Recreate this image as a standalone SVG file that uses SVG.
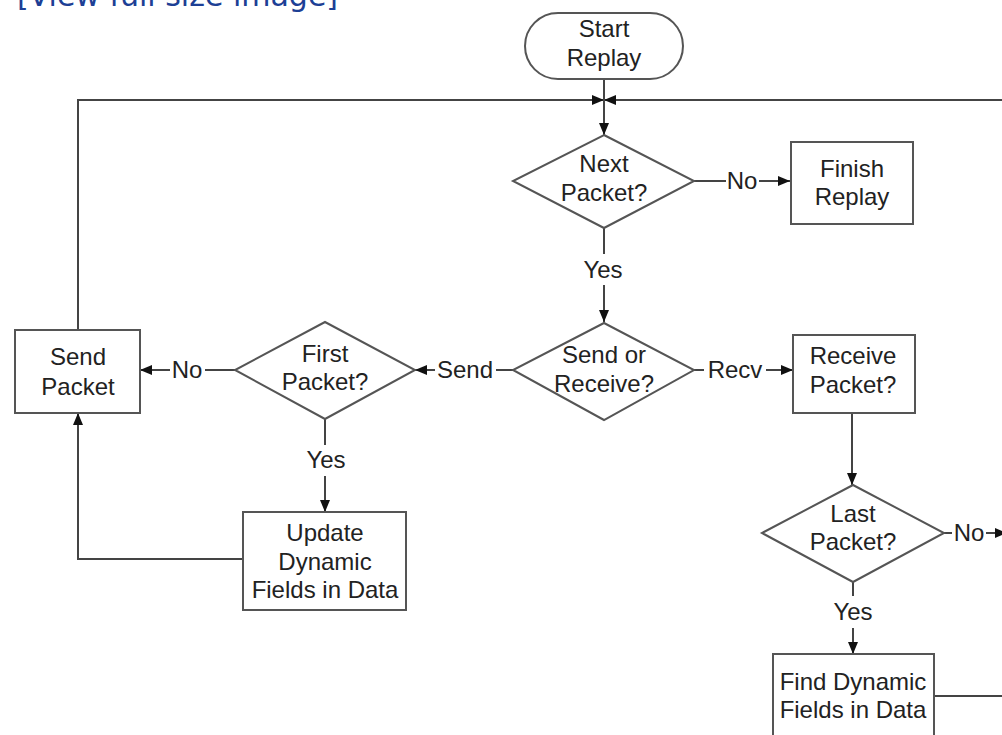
<svg xmlns="http://www.w3.org/2000/svg" width="1002" height="735" viewBox="0 0 1002 735">
  <defs>
    <marker id="arrow" markerUnits="userSpaceOnUse" markerWidth="12" markerHeight="10" refX="12" refY="5" orient="auto">
      <path d="M0,0 L12,5 L0,10 z" fill="#111"/>
    </marker>
    <style>
      .shape { fill: #fff; stroke: #555; stroke-width: 2; }
      .wire { fill: none; stroke: #444; stroke-width: 2; }
      .lbl { font-family: "Liberation Sans", Arial, sans-serif; font-size: 24px; fill: #222; text-anchor: middle; }
      .link { font-family: "DejaVu Sans", Verdana, sans-serif; font-size: 30px; fill: #1d3f95; }
    </style>
  </defs>
  <rect width="1002" height="735" fill="#fff"/>

  <text class="link" x="17" y="6">[View full size image]</text>

  <!-- connectors -->
  <g id="connectors">
    <path class="wire" d="M78,330 V100 H604" marker-end="url(#arrow)"/>
    <path class="wire" d="M1002,100 H604" marker-end="url(#arrow)"/>
    <path class="wire" d="M604,79 V135" marker-end="url(#arrow)"/>
    <!-- Next Packet? No -->
    <path class="wire" d="M694,181 H726"/>
    <path class="wire" d="M759,181 H790" marker-end="url(#arrow)"/>
    <text class="lbl" x="742" y="189">No</text>
    <!-- Next Packet? Yes -->
    <path class="wire" d="M604,228 V254"/>
    <path class="wire" d="M604,285 V322" marker-end="url(#arrow)"/>
    <text class="lbl" x="603" y="278">Yes</text>
    <!-- Send or Receive? Recv -->
    <path class="wire" d="M694,370 H704"/>
    <path class="wire" d="M766,370 H793" marker-end="url(#arrow)"/>
    <text class="lbl" x="735" y="378">Recv</text>
    <!-- Send or Receive? Send -->
    <path class="wire" d="M513,370 H496"/>
    <path class="wire" d="M435,370 H415" marker-end="url(#arrow)"/>
    <text class="lbl" x="465" y="378">Send</text>
    <!-- First Packet? No -->
    <path class="wire" d="M235,370 H205"/>
    <path class="wire" d="M170,370 H140" marker-end="url(#arrow)"/>
    <text class="lbl" x="187" y="378">No</text>
    <!-- First Packet? Yes -->
    <path class="wire" d="M325,419 V445"/>
    <path class="wire" d="M325,476 V512" marker-end="url(#arrow)"/>
    <text class="lbl" x="326" y="468">Yes</text>
    <!-- Update back to Send Packet -->
    <path class="wire" d="M243,559 H78 V413" marker-end="url(#arrow)"/>
    <!-- Receive Packet? to Last Packet? -->
    <path class="wire" d="M852,413 V485" marker-end="url(#arrow)"/>
    <!-- Last Packet? No -->
    <path class="wire" d="M944,533 H952"/>
    <path class="wire" d="M986,533 H1007" marker-end="url(#arrow)"/>
    <text class="lbl" x="969" y="541">No</text>
    <!-- Last Packet? Yes -->
    <path class="wire" d="M853,582 V596"/>
    <path class="wire" d="M853,628 V654" marker-end="url(#arrow)"/>
    <text class="lbl" x="853" y="620">Yes</text>
    <!-- Find Dynamic out -->
    <path class="wire" d="M934,696 H1002"/>
  </g>

  <g id="start">
    <rect class="shape" x="525" y="13" width="158" height="66" rx="33" ry="33"/>
    <text class="lbl" x="604" y="37">Start</text>
    <text class="lbl" x="604" y="66">Replay</text>
  </g>

  <g id="next-packet">
    <polygon class="shape" points="604,135 694,181 604,228 513,181"/>
    <text class="lbl" x="604" y="172">Next</text>
    <text class="lbl" x="604" y="201">Packet?</text>
  </g>

  <g id="finish-replay">
    <rect class="shape" x="791" y="142" width="122" height="82"/>
    <text class="lbl" x="852" y="177">Finish</text>
    <text class="lbl" x="852" y="205">Replay</text>
  </g>

  <g id="send-or-receive">
    <polygon class="shape" points="604,323 694,370 604,420 513,370"/>
    <text class="lbl" x="604" y="363">Send or</text>
    <text class="lbl" x="604" y="392">Receive?</text>
  </g>

  <g id="receive-packet">
    <rect class="shape" x="793" y="335" width="122" height="78"/>
    <text class="lbl" x="853" y="364">Receive</text>
    <text class="lbl" x="853" y="393">Packet?</text>
  </g>

  <g id="first-packet">
    <polygon class="shape" points="325,322 415,370 325,419 235,370"/>
    <text class="lbl" x="325" y="362">First</text>
    <text class="lbl" x="325" y="390">Packet?</text>
  </g>

  <g id="send-packet">
    <rect class="shape" x="15" y="330" width="125" height="83"/>
    <text class="lbl" x="78" y="365">Send</text>
    <text class="lbl" x="78" y="395">Packet</text>
  </g>

  <g id="update-fields">
    <rect class="shape" x="243" y="512" width="163" height="98"/>
    <text class="lbl" x="325" y="541">Update</text>
    <text class="lbl" x="325" y="570">Dynamic</text>
    <text class="lbl" x="325" y="598">Fields in Data</text>
  </g>

  <g id="last-packet">
    <polygon class="shape" points="853,485 944,533 853,582 762,533"/>
    <text class="lbl" x="853" y="522">Last</text>
    <text class="lbl" x="853" y="550">Packet?</text>
  </g>

  <g id="find-fields">
    <rect class="shape" x="773" y="654" width="161" height="100"/>
    <text class="lbl" x="853" y="690">Find Dynamic</text>
    <text class="lbl" x="853" y="718">Fields in Data</text>
  </g>
</svg>
